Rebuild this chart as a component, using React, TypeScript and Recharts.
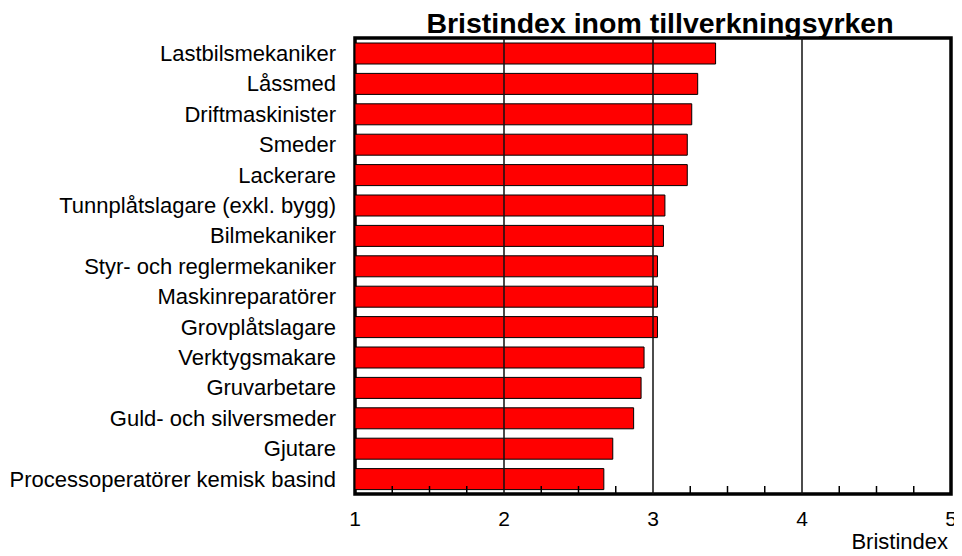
import { BarChart, Bar, XAxis, YAxis, ReferenceLine, ReferenceArea } from 'recharts'

const occupations = [
  'Lastbilsmekaniker',
  'Låssmed',
  'Driftmaskinister',
  'Smeder',
  'Lackerare',
  'Tunnplåtslagare (exkl. bygg)',
  'Bilmekaniker',
  'Styr- och reglermekaniker',
  'Maskinreparatörer',
  'Grovplåtslagare',
  'Verktygsmakare',
  'Gruvarbetare',
  'Guld- och silversmeder',
  'Gjutare',
  'Processoperatörer kemisk basind',
]

const shortageIndex = [3.42, 3.3, 3.26, 3.23, 3.23, 3.08, 3.07, 3.03, 3.03, 3.03, 2.94, 2.92, 2.87, 2.73, 2.67]

const axisTicks = [1, 1.25, 1.5, 1.75, 2, 2.25, 2.5, 2.75, 3, 3.25, 3.5, 3.75, 4, 4.25, 4.5, 4.75, 5]
const gridValues = [2, 3, 4]

const data = occupations.map((name, i) => ({ name, value: shortageIndex[i] }))

const FONT = 'Liberation Sans, Arial, sans-serif'

function XTick({ x, y, payload }: any) {
  const v = payload.value
  const major = Number.isInteger(v)
  return (
    <g>
      {!major && <line x1={x} x2={x} y1={y} y2={y - 8} stroke="#000" strokeWidth={1.5} />}
      {major && (
        <text x={x} y={y + 25} dy="0.355em" textAnchor="middle" fontSize={21} fontFamily={FONT} fill="#000">
          {v}
        </text>
      )}
    </g>
  )
}

export default function App() {
  return (
    <div style={{ position: 'relative', width: 954, height: 548 }}>
      <div
        style={{
          position: 'absolute',
          left: 660 - 8 - 300,
          width: 600,
          top: 0,
          textAlign: 'center',
          fontFamily: FONT,
          fontWeight: 'bold',
          fontSize: 28.5,
          lineHeight: '30px',
          color: '#000',
          zIndex: 1,
        }}
      >
        Bristindex inom tillverkningsyrken
      </div>
      <BarChart
        width={954}
        height={548}
        data={data}
        layout="vertical"
        margin={{ top: 30, right: 11, bottom: 0, left: 0 }}
        barSize={21}
      >
        <XAxis
          type="number"
          domain={[1, 5]}
          ticks={axisTicks}
          interval={0}
          allowDataOverflow
          height={62}
          axisLine={false}
          tickLine={false}
          tickSize={0}
          tickMargin={0}
          tick={<XTick />}
          label={{
            value: 'Bristindex',
            position: 'insideBottomRight',
            offset: 3,
            dy: -4,
            fontSize: 22,
            fontFamily: FONT,
            fill: '#000',
          }}
        />
        <YAxis
          type="category"
          dataKey="name"
          width={347}
          axisLine={false}
          tickLine={false}
          tickSize={0}
          tickMargin={19}
          interval={0}
          tick={{ fontSize: 22, fontFamily: FONT, fill: '#000' }}
        />
        {gridValues.map(v => (
          <ReferenceLine key={v} x={v} stroke="#111" strokeWidth={1.5} />
        ))}
        <Bar dataKey="value" fill="#ff0000" stroke="#000" strokeWidth={1} isAnimationActive={false} />
        <ReferenceArea x1={1} x2={5} fill="none" stroke="#000" strokeWidth={3.5} ifOverflow="visible" />
      </BarChart>
    </div>
  )
}
